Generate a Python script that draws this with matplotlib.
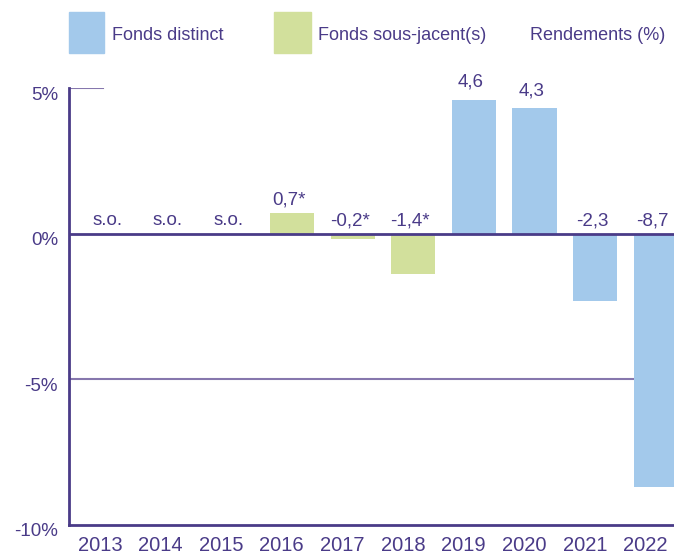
import numpy as np
import matplotlib.pyplot as plt
import matplotlib.transforms as mtransforms

plt.rcParams['font.family'] = ['Liberation Sans', 'DejaVu Sans']

# data
years = ['2013', '2014', '2015', '2016', '2017', '2018', '2019', '2020', '2021', '2022']
distinct = [np.nan, np.nan, np.nan, np.nan, np.nan, np.nan, 4.6, 4.3, -2.3, -8.7]
sousjacent = [np.nan, np.nan, np.nan, 0.7, -0.2, -1.4, np.nan, np.nan, np.nan, np.nan]
labels = ['s.o.', 's.o.', 's.o.', '0,7*', '-0,2*', '-1,4*', '4,6', '4,3', '-2,3', '-8,7']

purple = '#4a3b88'
grid_col = '#8677ad'
blue = '#a3c9eb'
green = '#d2e09c'

fig = plt.figure(figsize=(6.74, 5.55), dpi=100)
ax = fig.add_axes([69/674, 1-525/555, (674-69)/674, (525-88)/555])

x = np.arange(len(years))
off = 0.17
w = 0.73
ax.bar(x + off, distinct, width=w, color=blue, zorder=2)
ax.bar(x + off, sousjacent, width=w, color=green, zorder=2)

# gridlines
ax.axhline(-5, color=grid_col, lw=1.5, zorder=1)
ax.axhline(5, xmin=0, xmax=34/605, color=grid_col, lw=1.5, zorder=1)
ax.axhline(0, color=purple, lw=2, zorder=3)

for i, lab in enumerate(labels):
    v = distinct[i] if not np.isnan(distinct[i]) else sousjacent[i]
    if np.isnan(v):
        v = 0
    y = max(v, 0)
    gap = 0.3 if v > 2 else 0.15
    ax.text(x[i] + off - 0.05, y + gap, lab, ha='center', va='bottom',
            fontsize=13.5, color=purple)

ax.set_xlim(-0.51, 9.47)
ax.set_ylim(-10, 5)
ax.set_yticks([-10, -5, 0, 5])
ax.set_yticklabels(['-10%', '-5%', '0%', '5%'])
ax.set_xticks(x)
ax.set_xticklabels(years)
ax.tick_params(axis='both', length=0, labelsize=13.5, colors=purple)
ax.tick_params(axis='x', pad=8)
ax.tick_params(axis='y', pad=8)
for lab in ax.get_xticklabels():
    lab.set_fontsize(14.5)
shift = mtransforms.ScaledTranslation(0, -5/100, fig.dpi_scale_trans)
for lab in ax.get_yticklabels():
    lab.set_transform(lab.get_transform() + shift)

for s in ['top', 'right']:
    ax.spines[s].set_visible(False)
for s in ['left', 'bottom']:
    ax.spines[s].set_color(purple)
    ax.spines[s].set_linewidth(2)

# legend
fig.patches.append(plt.Rectangle((69/674, 1-53/555), 35/674, 41/555,
                                 transform=fig.transFigure, color=blue))
fig.patches.append(plt.Rectangle((274/674, 1-53/555), 37/674, 41/555,
                                 transform=fig.transFigure, color=green))
fig.text(112/674, 1-36/555, 'Fonds distinct', fontsize=13, color=purple, va='center')
fig.text(318/674, 1-36/555, 'Fonds sous-jacent(s)', fontsize=13, color=purple, va='center')
fig.text(530/674, 1-36/555, 'Rendements (%)', fontsize=13, color=purple, va='center')

fig.savefig('out.png', dpi=100)
